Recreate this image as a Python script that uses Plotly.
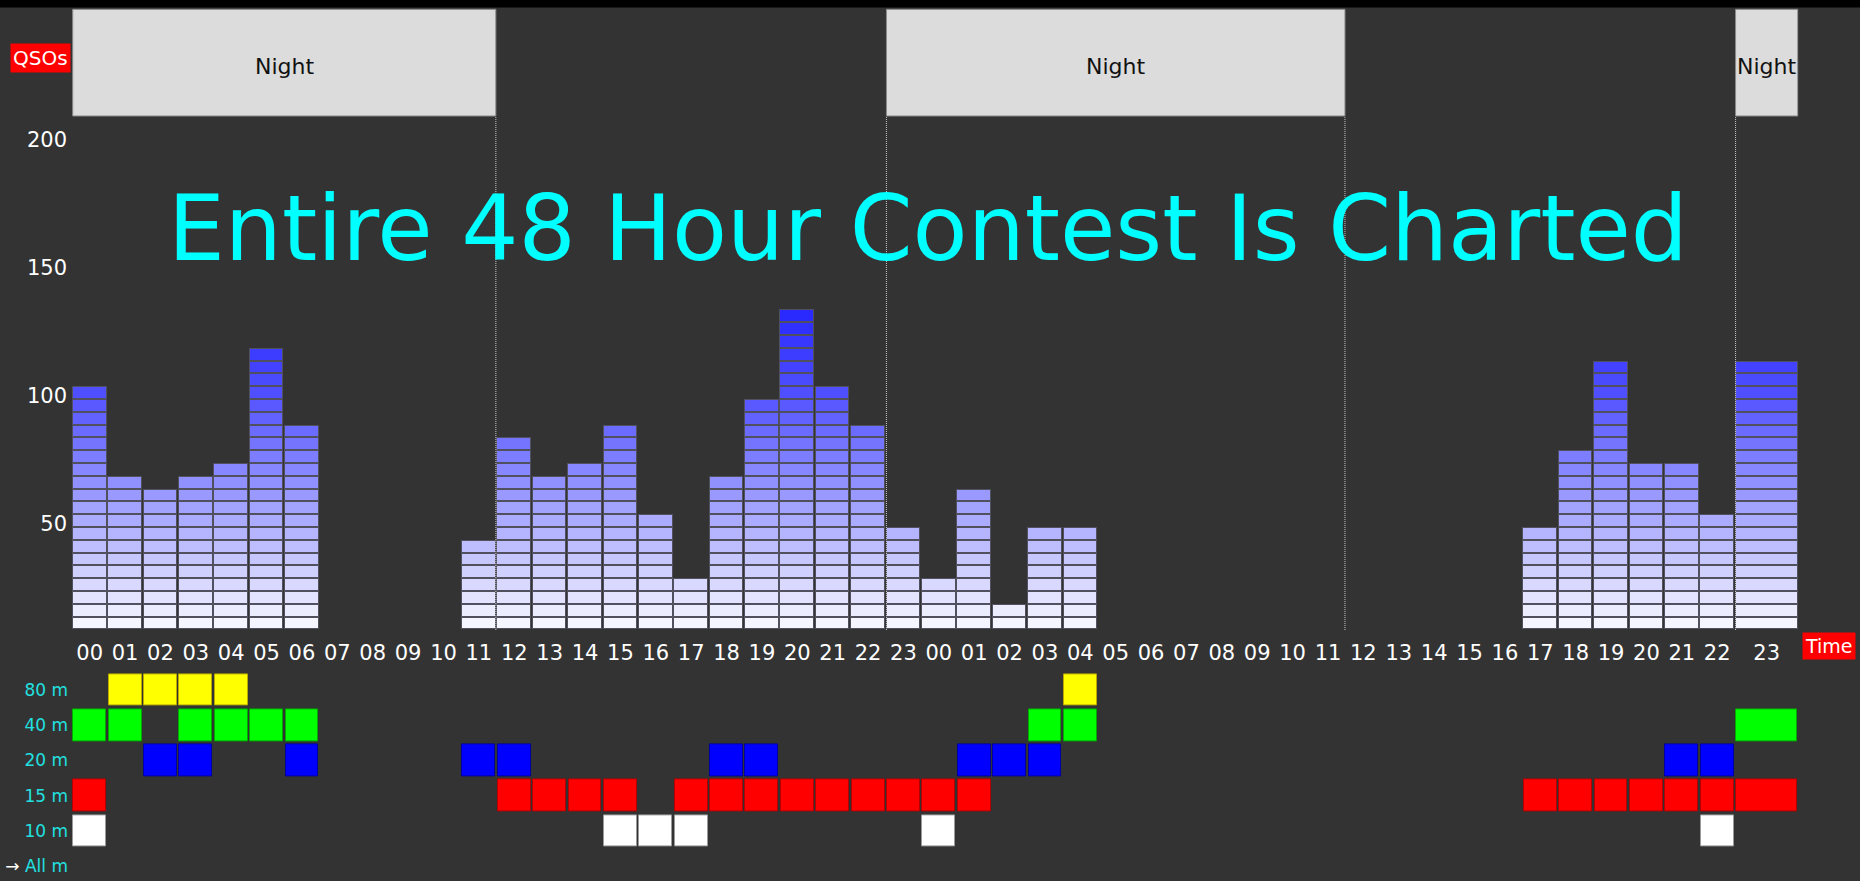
import plotly.graph_objects as go

# hour labels over the 48 hour contest (two UTC days)
hour_labels = [f"{h:02d}" for h in range(24)] * 2

# QSOs per hour (each bar segment = 5 QSOs)
qso = [95, 60, 55, 60, 65, 110, 80, 0, 0, 0, 0, 35, 75, 60, 65, 80, 45, 20, 60, 90, 125, 95, 80, 40,
       20, 55, 10, 40, 40, 0, 0, 0, 0, 0, 0, 0, 0, 0, 0, 0, 0, 40, 70, 105, 65, 65, 45, 105]

# hours (index into the 48) in which each band was used
band_names = ["80 m", "40 m", "20 m", "15 m", "10 m"]
band_hours = [
    [1, 2, 3, 4, 28],
    [0, 1, 3, 4, 5, 6, 27, 28, 47],
    [2, 3, 6, 11, 12, 18, 19, 25, 26, 27, 45, 46],
    [0, 12, 13, 14, 15, 17, 18, 19, 20, 21, 22, 23, 24, 25, 41, 42, 43, 44, 45, 46, 47],
    [0, 15, 16, 17, 24, 46],
]
band_colors = ["#ffff00", "#00ff00", "#0000ff", "#ff0000", "#ffffff"]
band_edges = ["#b8a800", "#00a800", "#0000a0", "#b00000", "#9a9a9a"]

# night periods, first and last hour index
nights = [(0, 11), (23, 35), (47, 47)]

W, H = 1860, 881
BG = "#333333"
FONT = "DejaVu Sans"
DOT = dict(color="#c8c8c8", width=1, dash="1px,1px")

# the last hour column is drawn wider
slot_w = [1.0] * 47 + [1.8]
left = []
acc = 0.0
for w in slot_w:
    left.append(acc)
    acc += w
centers = [l + w / 2 for l, w in zip(left, slot_w)]
x_end = acc


def seg_color(k):
    # light lavender at the bottom, deeper blue further up
    c = 245 - 9.2 * k if k <= 18 else 80 - 6.3 * (k - 18)
    c = max(0, round(c))
    return f"rgb({c},{c},255)"


fig = go.Figure()

seg = [q // 5 for q in qso]
for k in range(max(seg)):
    idx = [i for i in range(len(qso)) if seg[i] > k]
    fig.add_bar(
        x=[centers[i] for i in idx], y=[4.6] * len(idx), base=[5 * k + 0.2] * len(idx),
        width=[slot_w[i] - 0.05 for i in idx],
        marker=dict(color=seg_color(k), line=dict(color="#50505e", width=1)),
        xaxis="x", yaxis="y", hoverinfo="skip", showlegend=False)

for r, (hrs, col, edge) in enumerate(zip(band_hours, band_colors, band_edges)):
    fig.add_bar(
        x=[centers[i] for i in hrs], y=[0.9] * len(hrs), base=[r - 0.45] * len(hrs),
        width=[slot_w[i] - 0.07 for i in hrs],
        marker=dict(color=col, line=dict(color=edge, width=1)),
        xaxis="x2", yaxis="y2", hoverinfo="skip", showlegend=False)

x_dom = [72 / W, (72 + x_end * 35.38) / W]

shapes = [
    # black strip on top
    dict(type="rect", xref="paper", yref="paper", x0=0, x1=1, y0=873.5 / H, y1=1.01,
         fillcolor="#000000", line=dict(width=0), layer="below"),
    # dotted axis lines
    dict(type="line", xref="x", yref="y domain", x0=-0.06, x1=-0.06, y0=0, y1=0.824, line=DOT),
    dict(type="line", xref="x", yref="y", x0=-0.06, x1=x_end - 0.03, y0=-0.4, y1=-0.4, line=DOT),
]
annotations = []
for a, b in nights:
    x0 = left[a] + 0.02
    x1 = left[b] + slot_w[b] - 0.02
    shapes.append(dict(type="rect", xref="x", yref="y domain", x0=x0, x1=x1, y0=0.8277, y1=0.9995,
                       fillcolor="#dcdcdc", line=dict(color="#8a8a8a", width=1)))
    annotations.append(dict(text="Night", x=(x0 + x1) / 2, y=0.908, xref="x", yref="y domain",
                            xanchor="center", yanchor="middle", showarrow=False,
                            font=dict(family=FONT, size=22, color="#111111")))
    for xe in (x0, x1):
        if 0.1 < xe < x_end - 0.1:
            shapes.append(dict(type="line", xref="x", yref="y domain", x0=xe, x1=xe, y0=0, y1=0.826,
                               line=DOT))

annotations += [
    dict(text="Entire 48 Hour Contest Is Charted", x=928 / W, y=1 - 174 / H, xref="paper", yref="paper",
         xanchor="center", yanchor="top", showarrow=False,
         font=dict(family=FONT, size=90, color="#00ffff")),
    dict(text="QSOs", x=40 / W, y=1 - 57.7 / H, xref="paper", yref="paper", showarrow=False,
         xanchor="center", yanchor="middle", bgcolor="#ff0000", borderpad=2,
         font=dict(family=FONT, size=20, color="#ffffff")),
    dict(text="Time", x=1829 / W, y=1 - 646 / H, xref="paper", yref="paper", showarrow=False,
         xanchor="center", yanchor="middle", bgcolor="#ff0000", borderpad=2,
         font=dict(family=FONT, size=19, color="#ffffff")),
]

fig.update_layout(
    width=W, height=H, margin=dict(l=0, r=0, t=0, b=0),
    paper_bgcolor=BG, plot_bgcolor=BG, barmode="overlay", bargap=0, hovermode=False,
    shapes=shapes, annotations=annotations,
    xaxis=dict(domain=x_dom, range=[0, x_end], tickvals=centers, ticktext=hour_labels,
               showgrid=False, zeroline=False, ticks="", ticklabelstandoff=8,
               tickfont=dict(family=FONT, size=21, color="#ffffff"), anchor="y"),
    yaxis=dict(domain=[(H - 630) / H, (H - 9) / H], range=[0, 242.5], tickvals=[50, 100, 150, 200],
               showgrid=False, zeroline=False, ticks="", ticklabelshift=22, ticklabelstandoff=4,
               tickfont=dict(family=FONT, size=21, color="#ffffff"), anchor="x"),
    xaxis2=dict(domain=x_dom, range=[0, x_end], showticklabels=False, showgrid=False,
                zeroline=False, anchor="y2"),
    yaxis2=dict(domain=[1 / H, (H - 672.4) / H], range=[5.4, -0.5], tickvals=[0, 1, 2, 3, 4, 5],
                ticktext=band_names + ["<span style='color:#ffffff'>\u2192</span> All m"],
                showgrid=False, zeroline=False, ticks="", ticklabelstandoff=3,
                tickfont=dict(family=FONT, size=17, color="#22e0e0"), anchor="x2"),
)

fig.write_html("out.html", config={"displayModeBar": False},
               post_script="document.body.style.margin='0px';")
